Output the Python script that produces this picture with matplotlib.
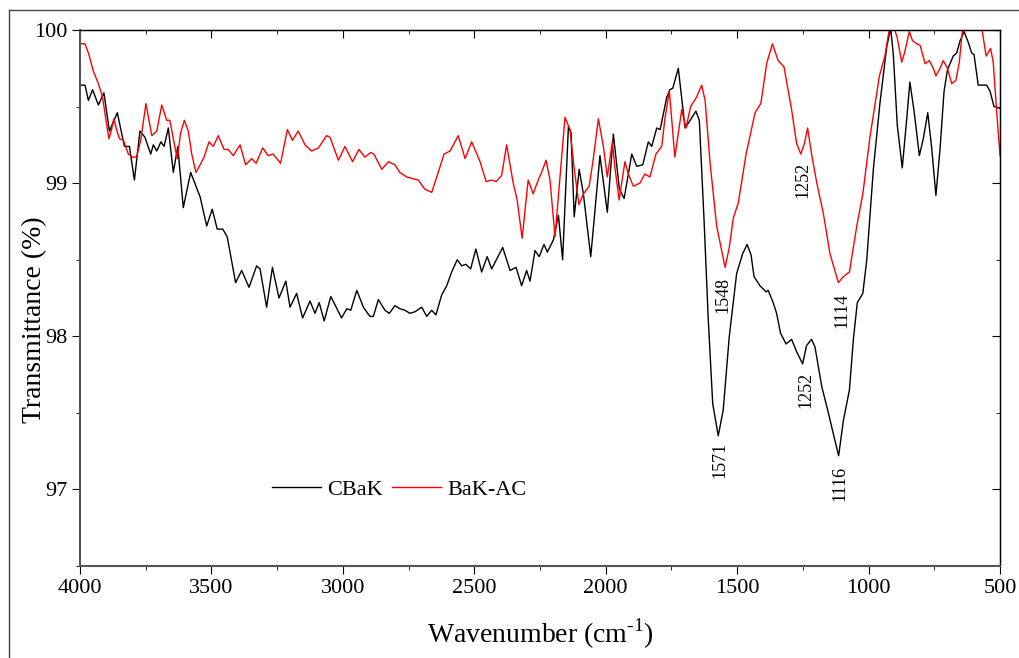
import numpy as np
import matplotlib
matplotlib.use("Agg")
import matplotlib.pyplot as plt
from matplotlib.lines import Line2D
from matplotlib.ticker import MultipleLocator

plt.rcParams['font.family'] = ['Liberation Serif', 'DejaVu Serif']
plt.rcParams['mathtext.fontset'] = 'custom'
plt.rcParams['mathtext.rm'] = 'Liberation Serif'

# CBaK (black)
wn_cbak = [3997, 3981, 3968, 3952, 3930, 3909, 3888, 3858, 3831, 3812, 3793, 3772, 3753, 3731, 3721,
           3708, 3692, 3680, 3664, 3645, 3628, 3607, 3579, 3543, 3518, 3497, 3478, 3457, 3440, 3408,
           3385, 3357, 3328, 3315, 3290, 3268, 3243, 3217, 3201, 3176, 3153, 3125, 3106, 3090, 3071,
           3046, 3005, 2985, 2970, 2947, 2922, 2897, 2884, 2865, 2840, 2823, 2802, 2783, 2764, 2745,
           2726, 2700, 2681, 2662, 2646, 2624, 2605, 2586, 2565, 2548, 2532, 2514, 2494, 2472, 2451,
           2434, 2413, 2392, 2364, 2341, 2320, 2301, 2288, 2269, 2253, 2235, 2222, 2199, 2180, 2164,
           2142, 2132, 2120, 2101, 2085, 2057, 2022, 1994, 1971, 1948, 1930, 1901, 1882, 1859, 1838,
           1825, 1806, 1793, 1768, 1756, 1745, 1724, 1698, 1679, 1657, 1644, 1626, 1610, 1593, 1572,
           1553, 1530, 1502, 1479, 1462, 1447, 1436, 1413, 1390, 1382, 1363, 1350, 1335, 1314, 1293,
           1274, 1251, 1236, 1217, 1204, 1178, 1153, 1131, 1114, 1096, 1073, 1058, 1043, 1022, 1007,
           982, 957, 931, 916, 906, 891, 872, 855, 843, 827, 807, 792, 775, 760, 744,
           728, 713, 700, 678, 665, 652, 637, 621, 608, 599, 583, 566, 551, 538, 523, 503]
t_cbak = [99.64, 99.64, 99.54, 99.61, 99.51, 99.59, 99.34, 99.46, 99.24, 99.24, 99.02, 99.34, 99.30, 99.19, 99.25,
          99.21, 99.27, 99.24, 99.36, 99.07, 99.24, 98.84, 99.07, 98.91, 98.72, 98.83, 98.70, 98.70, 98.65, 98.35,
          98.43, 98.32, 98.46, 98.44, 98.19, 98.45, 98.25, 98.36, 98.19, 98.28, 98.12, 98.23, 98.15, 98.22, 98.10,
          98.26, 98.12, 98.18, 98.17, 98.30, 98.19, 98.13, 98.13, 98.24, 98.17, 98.15, 98.20, 98.18, 98.17, 98.15,
          98.16, 98.19, 98.13, 98.17, 98.14, 98.27, 98.33, 98.42, 98.50, 98.46, 98.47, 98.44, 98.57, 98.42, 98.52,
          98.44, 98.51, 98.58, 98.43, 98.45, 98.33, 98.43, 98.36, 98.56, 98.52, 98.60, 98.55, 98.63, 98.79, 98.50,
          99.37, 99.33, 98.78, 99.09, 98.93, 98.52, 99.18, 98.81, 99.32, 98.96, 98.90, 99.19, 99.11, 99.12, 99.27,
          99.24, 99.36, 99.35, 99.56, 99.61, 99.62, 99.75, 99.36, 99.41, 99.47, 99.41, 98.76, 98.11, 97.56, 97.35,
          97.52, 98.00, 98.41, 98.54, 98.60, 98.53, 98.39, 98.33, 98.29, 98.30, 98.22, 98.15, 98.02, 97.95, 97.98,
          97.90, 97.82, 97.94, 97.98, 97.93, 97.67, 97.50, 97.34, 97.22, 97.45, 97.65, 97.98, 98.22, 98.28, 98.50,
          99.09, 99.52, 99.89, 100.01, 99.84, 99.38, 99.10, 99.42, 99.66, 99.47, 99.18, 99.29, 99.46, 99.23, 98.92,
          99.23, 99.60, 99.74, 99.83, 99.85, 99.93, 99.99, 99.92, 99.85, 99.84, 99.64, 99.64, 99.64, 99.60, 99.50, 99.49]

# BaK-AC (red)
wn_bakac = [3997, 3981, 3968, 3949, 3930, 3914, 3901, 3890, 3880, 3871, 3861, 3850, 3835, 3816, 3800,
            3785, 3769, 3749, 3727, 3708, 3689, 3670, 3658, 3645, 3630, 3617, 3603, 3588, 3575, 3559,
            3543, 3528, 3509, 3493, 3474, 3452, 3436, 3417, 3391, 3370, 3347, 3330, 3305, 3284, 3265,
            3237, 3211, 3192, 3170, 3144, 3119, 3093, 3062, 3049, 3017, 2992, 2963, 2939, 2916, 2894,
            2882, 2852, 2827, 2802, 2783, 2757, 2713, 2688, 2662, 2643, 2615, 2592, 2561, 2535, 2510,
            2478, 2455, 2434, 2417, 2396, 2377, 2352, 2337, 2318, 2295, 2276, 2257, 2244, 2227, 2212,
            2193, 2177, 2155, 2136, 2121, 2102, 2085, 2063, 2048, 2028, 2009, 1994, 1975, 1965, 1949,
            1927, 1914, 1895, 1870, 1851, 1832, 1809, 1787, 1775, 1758, 1737, 1711, 1695, 1677, 1655,
            1635, 1622, 1603, 1578, 1546, 1530, 1515, 1496, 1466, 1432, 1410, 1388, 1366, 1344, 1322,
            1293, 1274, 1258, 1244, 1232, 1217, 1197, 1172, 1147, 1115, 1096, 1073, 1045, 1022, 995,
            959, 938, 921, 906, 891, 874, 862, 845, 833, 817, 804, 785, 769, 754, 744,
            728, 716, 700, 684, 668, 655, 643, 630, 617, 600, 569, 553, 536, 526, 513, 500]
t_bakac = [99.91, 99.91, 99.85, 99.73, 99.65, 99.56, 99.41, 99.29, 99.35, 99.42, 99.35, 99.29, 99.28, 99.19, 99.17,
           99.17, 99.28, 99.52, 99.31, 99.34, 99.51, 99.41, 99.41, 99.29, 99.16, 99.33, 99.41, 99.34, 99.19, 99.07,
           99.12, 99.17, 99.27, 99.24, 99.31, 99.22, 99.22, 99.18, 99.25, 99.12, 99.16, 99.13, 99.23, 99.18, 99.19,
           99.13, 99.35, 99.28, 99.34, 99.25, 99.21, 99.23, 99.31, 99.30, 99.15, 99.24, 99.14, 99.22, 99.17, 99.20,
           99.19, 99.09, 99.14, 99.12, 99.07, 99.04, 99.02, 98.96, 98.94, 99.04, 99.19, 99.21, 99.31, 99.16, 99.27,
           99.14, 99.01, 99.02, 99.01, 99.05, 99.25, 99.00, 98.89, 98.64, 99.02, 98.93, 99.02, 99.07, 99.15, 99.02,
           98.65, 98.98, 99.43, 99.35, 99.11, 98.86, 98.93, 98.98, 99.15, 99.42, 99.24, 99.04, 99.27, 99.10, 98.89,
           99.14, 99.06, 98.98, 99.00, 99.06, 99.04, 99.19, 99.24, 99.42, 99.60, 99.17, 99.48, 99.36, 99.50, 99.56,
           99.64, 99.54, 99.13, 98.72, 98.45, 98.58, 98.77, 98.87, 99.19, 99.46, 99.52, 99.78, 99.91, 99.80, 99.76,
           99.48, 99.26, 99.19, 99.26, 99.36, 99.19, 99.00, 98.80, 98.54, 98.35, 98.39, 98.42, 98.72, 98.93, 99.30,
           99.70, 99.83, 100.01, 100.03, 99.95, 99.79, 99.86, 99.99, 99.93, 99.91, 99.90, 99.78, 99.80, 99.75, 99.70,
           99.75, 99.80, 99.75, 99.65, 99.67, 99.79, 100.0, 100.0, 100.01, 100.05, 100.01, 99.83, 99.88, 99.79, 99.47, 99.18]

# peak labels
peak_text = ['1571', '1548', '1252', '1252', '1114', '1116']
peak_x = [1565, 1554, 1250, 1238, 1101, 1109]
peak_y = [97.19, 98.27, 99.02, 97.65, 98.17, 97.04]

fig = plt.figure(figsize=(10.19, 6.58), dpi=100)
ax = fig.add_axes([0.0785, 0.1398, 0.9029, 0.8146])

ax.plot(wn_cbak, t_cbak, color='black', lw=1.0, label='CBaK')
ax.plot(wn_bakac, t_bakac, color='red', lw=1.0, label='BaK-AC')

for s, x, y in zip(peak_text, peak_x, peak_y):
    ax.text(x, y, s, rotation=90, ha='center', va='center', fontsize=13)

ax.set_xlim(4000, 500)
ax.set_ylim(96.5, 100)
ax.xaxis.set_major_locator(MultipleLocator(500))
ax.xaxis.set_minor_locator(MultipleLocator(250))
ax.yaxis.set_major_locator(MultipleLocator(1))
ax.yaxis.set_minor_locator(MultipleLocator(0.5))
ax.tick_params(which='both', direction='out', labelsize=16, pad=3)
ax.tick_params(which='major', length=6)
ax.tick_params(which='minor', length=3)

for side in ['left', 'bottom']:
    ax.spines[side].set_color('#555555')
    ax.spines[side].set_linewidth(1.5)
for side in ['top', 'right']:
    ax.spines[side].set_linewidth(1.0)

# mirrored ticks pointing inward on top and right
top = ax.secondary_xaxis('top')
top.xaxis.set_major_locator(MultipleLocator(500))
top.xaxis.set_minor_locator(MultipleLocator(250))
top.tick_params(which='both', direction='in', labeltop=False)
top.tick_params(which='major', length=6)
top.tick_params(which='minor', length=3)
right = ax.secondary_yaxis('right')
right.yaxis.set_major_locator(MultipleLocator(1))
right.yaxis.set_minor_locator(MultipleLocator(0.5))
right.tick_params(which='both', direction='in', labelright=False)
right.tick_params(which='major', length=6)
right.tick_params(which='minor', length=3)

ax.set_xlabel(r'Wavenumber (cm$^{\text{-1}}$)', fontsize=20)
ax.xaxis.set_label_coords(0.5, -0.095)
ax.set_ylabel('Transmittance (%)', fontsize=20)
ax.yaxis.set_label_coords(-0.036, 0.46)

ax.legend(loc='center', bbox_to_anchor=(0.347, 0.142), ncol=2, frameon=False,
          fontsize=16, handlelength=2.2, handletextpad=0.3, columnspacing=0.4)

# outer frame lines (partly cropped)
fig.add_artist(Line2D([0.0088, 0.0088], [0, 0.985], color='#444444', lw=1.0))
fig.add_artist(Line2D([0.0088, 1.0], [0.985, 0.985], color='#444444', lw=1.0))

fig.savefig('out.png', dpi=100)
